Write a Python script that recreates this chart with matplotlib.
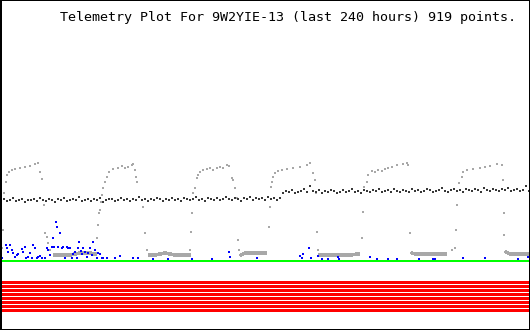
import numpy as np
import matplotlib
matplotlib.use("Agg")
import matplotlib.pyplot as plt

# time axis in hours (0..240), values in raw telemetry counts
title = "Telemetry Plot For 9W2YIE-13 (last 240 hours) 919 points."

gray_t = [0.9, 1.4, 1.8, 2.7, 3.2, 4.1, 5.4, 6.8, 9.1, 11.3, 13.6, 15.8, 17.2, 18.1, 19.0,
          19.9, 20.4, 21.3, 21.7, 22.6, 24.9, 27.2, 29.4, 31.7, 34.0, 36.2, 38.5, 40.8, 43.0,
          43.9, 44.4, 44.8, 45.3, 45.7, 46.2, 46.6, 47.5, 48.5, 49.4, 51.2, 53.4, 55.2, 56.6,
          58.0, 59.8, 60.2, 61.1, 61.6, 62.0, 64.8, 65.7, 66.6, 67.9, 70.2, 72.4, 74.7, 77.0,
          79.2, 81.5, 83.8, 85.6, 86.0, 86.5, 86.9, 87.4, 88.3, 89.2, 89.7, 90.6, 91.9, 93.7,
          95.1, 96.4, 98.3, 99.6, 101.0, 102.8, 103.7, 105.0, 105.5, 106.4, 107.3, 107.8, 108.2,
          109.1, 110.9, 113.2, 115.5, 117.7, 120.0, 121.8, 122.3, 122.7, 123.2, 123.6, 124.5,
          125.9, 127.7, 130.0, 132.7, 135.8, 139.0, 140.4, 141.7, 142.6, 143.1, 143.5, 144.0,
          144.9, 149.4, 154.0, 158.5, 162.1, 163.9, 164.4, 164.8, 166.2, 166.6, 168.4, 169.8,
          171.2, 173.0, 174.3, 175.7, 177.5, 179.8, 182.5, 184.3, 184.7, 185.7, 186.6, 187.9,
          192.5, 197.0, 201.5, 204.7, 206.0, 206.5, 206.9, 207.8, 209.2, 209.6, 211.5, 214.2,
          217.3, 219.6, 221.9, 225.0, 227.3, 227.8, 228.0, 228.2, 229.1, 230.9, 235.5, 239.5]
gray_v = [82, 100, 137, 148, 155, 158, 160, 161, 162, 163, 164, 166, 167, 158, 151,
          125, 97, 93, 87, 80, 75, 75, 75, 75, 76, 77, 77, 77, 76,
          92, 105, 117, 120, 128, 135, 142, 148, 153, 158, 161, 162, 164, 162,
          163, 165, 166, 160, 153, 148, 123, 97, 80, 75, 75, 76, 77, 76,
          75, 75, 75, 75, 80, 98, 117, 137, 142, 152, 155, 158, 160, 161,
          162, 160, 162, 163, 162, 165, 164, 152, 150, 142, 132, 90, 80,
          75, 77, 77, 77, 77, 77, 103, 123, 143, 148, 153, 157,
          159, 160, 161, 162, 163, 165, 167, 157, 150, 137, 98, 80,
          75, 75, 75, 75, 76, 92, 118, 143, 148, 155, 159, 158,
          160, 159, 161, 162, 163, 165, 166, 167, 165, 97, 77, 76,
          76, 76, 76, 80, 82, 100, 125, 147, 153, 158, 160, 161,
          162, 163, 164, 166, 165, 150, 117, 95, 78, 76, 76, 76]

# dark channel, one sample every ~1.36 h
black_t0 = 0.45
black_dt = 1.358
black_v = [130, 131, 129, 130, 132, 129, 130, 131, 128, 130, 130, 131, 129, 132, 130, 129, 131, 130, 128, 131,
           130, 132, 129, 130, 131, 130, 133, 129, 130, 131, 129, 131, 130, 132, 128, 130, 131, 131, 129, 130,
           132, 130, 131, 129, 131, 130, 133, 130, 131, 129, 131, 130, 132, 131, 129, 131, 130, 132, 130, 131,
           129, 132, 131, 130, 131, 133, 130, 131, 129, 132, 131, 130, 132, 130, 131, 133, 131, 130, 132, 131,
           129, 132, 131, 133, 130, 132, 131, 132, 130, 133, 131, 132, 130, 132,
           137, 139, 138, 140, 137, 138, 139, 141, 138, 144, 139, 138, 140, 137, 139, 138, 140, 139, 137, 138,
           140, 138, 139, 141, 138, 139, 137, 140, 139, 138, 140, 139, 141, 138, 139, 140, 138, 141, 139, 138,
           140, 139, 138, 141, 139, 140, 138, 139, 141, 140, 138, 139, 140, 142, 139, 138, 140, 141, 139, 140,
           138, 141, 140, 139, 141, 140, 138, 142, 140, 139, 141, 140, 139, 141, 140, 142, 139, 140, 141, 139,
           140, 144, 139]

blue_t = [0.9, 2.7, 3.2, 3.6, 4.5, 5.4, 5.9, 6.8, 7.7, 8.2, 10.0, 10.4, 11.3, 11.8, 12.7, 13.6,
          14.5, 14.9, 15.8, 16.8, 17.2, 18.1, 19.0, 20.4, 21.3, 21.7, 22.6, 23.5, 24.0, 24.5,
          25.4, 25.8, 26.3, 27.2, 28.1, 28.5, 29.4, 30.3, 30.8, 31.7, 32.6, 33.1, 34.0, 34.9,
          35.3, 35.8, 36.7, 37.1, 37.6, 38.5, 39.4, 39.8, 40.8, 41.7, 42.1, 43.0, 43.9, 44.4,
          45.3, 46.2, 46.6, 48.5, 52.1, 54.3, 60.2, 62.5, 69.3, 76.1, 86.9, 96.0, 103.7, 104.1,
          116.4, 135.8, 136.8, 137.2, 139.9, 140.8, 144.0, 145.8, 148.5, 153.1, 153.5, 167.5,
          170.7, 175.7, 179.8, 189.7, 196.1, 197.0, 209.6, 219.6, 234.6, 239.1]
blue_v = [72, 85, 82, 78, 85, 80, 77, 73, 75, 76, 81, 78, 83, 72, 73, 77,
          72, 85, 82, 72, 73, 74, 72, 72, 82, 80, 75, 83, 92, 83,
          108, 103, 83, 97, 82, 83, 72, 83, 82, 82, 72, 76, 78, 72,
          82, 88, 79, 76, 82, 78, 73, 77, 82, 75, 88, 80, 72, 77,
          76, 72, 72, 72, 72, 74, 72, 72, 71, 71, 71, 71, 78, 73,
          72, 74, 72, 76, 82, 72, 74, 71, 71, 73, 71, 73,
          71, 71, 71, 71, 71, 71, 72, 72, 71, 73]

green_level = 69.5
red_bits = [48.5, 44.5, 40.5, 36.5, 32.5, 28.5, 24.5, 20.5]

px = 72 / 100  # points per pixel at dpi 100

fig = plt.figure(figsize=(5.3, 3.3), dpi=100)
ax = fig.add_axes([0, 0, 1, 1])
ax.set_xlim(0, 240)
ax.set_ylim(0, 330)
ax.set_xticks([])
ax.set_yticks([])
for side in ['top', 'right', 'bottom']:
    ax.spines[side].set_linewidth(2 * px)
ax.spines['left'].set_linewidth(4 * px)

# red bit channels
ax.hlines(red_bits, 0, 240, colors='#ff0000', lw=3 * px, antialiased=False)
# green baseline
ax.axhline(green_level, color='#00ff00', lw=2 * px, antialiased=False)

# gray channel: low flat parts look solid
gt = np.array(gray_t)
gv = np.array(gray_v, dtype=float)
low = np.where(gv < 79, gv, np.nan)
ax.plot(gt, low, color='#a8a8a8', lw=2.5 * px, antialiased=False)
ax.plot(gt, gv, 's', color='#a8a8a8', ms=2.2 * px, mew=0, antialiased=False)

bt = black_t0 + black_dt * np.arange(len(black_v))
ax.plot(bt, black_v, 's', color='#383838', ms=2.6 * px, mew=0, antialiased=False)

ax.plot(blue_t, blue_v, 's', color='#0000ff', ms=2.2 * px, mew=0, antialiased=False)

fig.text(60 / 530, 1 - 17 / 330, title, family='DejaVu Sans Mono', fontsize=9.65,
         ha='left', va='center', color='black')

fig.savefig('out.png', dpi=100)
